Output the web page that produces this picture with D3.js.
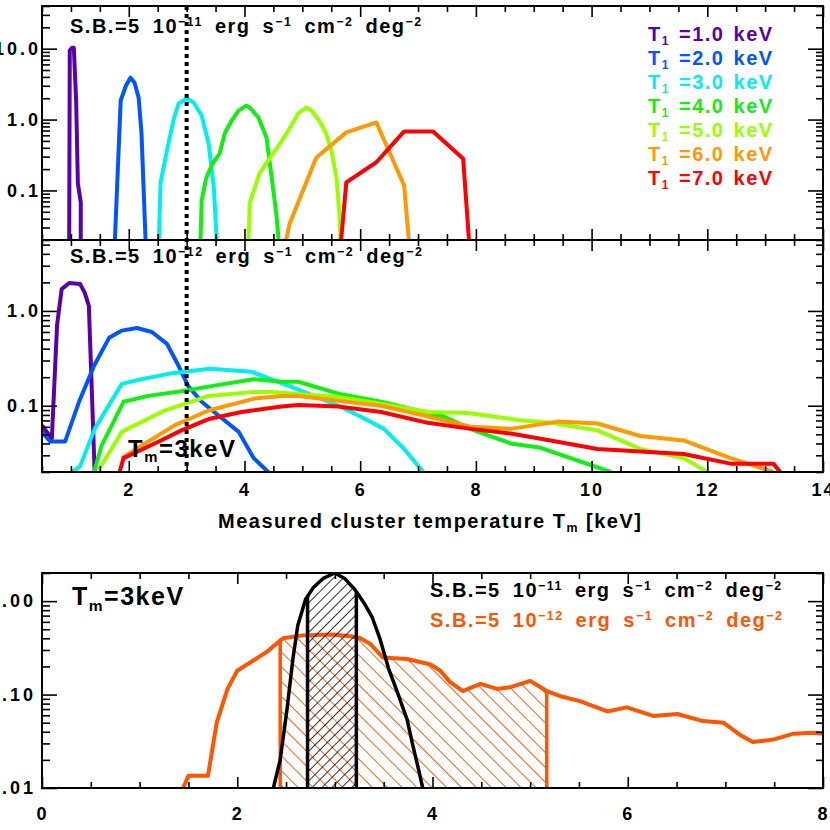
<!DOCTYPE html>
<html>
<head>
<meta charset="utf-8">
<script src="https://cdn.jsdelivr.net/npm/d3@7"></script>
<style>
  body { margin: 0; background: #fff; }
  svg text { font-family: "Liberation Sans", Arial, sans-serif; font-weight: bold; letter-spacing: 1.5px; white-space: pre; }
</style>
</head>
<body>
<div class="chart"></div>
<script>
// ---- data -------------------------------------------------------------
const inputTemps = ["1.0", "2.0", "3.0", "4.0", "5.0", "6.0", "7.0"];
const colors = ["#5a00aa", "#0055ff", "#00eeee", "#11ee11", "#99ff00", "#ff9900", "#ff0000"];

// S.B. = 5e-11 : [measured T (keV), value]
const hi1 = [[0.97, 0.02], [0.98, 9.4], [1.02, 10.3], [1.05, 10.3], [1.09, 1.85], [1.12, 0.126], [1.17, 0.068], [1.17, 0.02]];
const hi2 = [[1.76, 0.02], [1.86, 1.85], [1.95, 3.0], [2.03, 3.9], [2.10, 3.3], [2.17, 2.04], [2.22, 0.64], [2.29, 0.02]];
const hi3 = [[2.52, 0.02], [2.55, 0.13], [2.67, 0.40], [2.78, 1.03], [2.86, 1.68], [3.0, 1.98], [3.12, 1.74], [3.26, 1.14], [3.38, 0.46], [3.47, 0.11], [3.52, 0.02]];
const hi4 = [[3.24, 0.02], [3.26, 0.072], [3.34, 0.152], [3.45, 0.24], [3.57, 0.33], [3.66, 0.64], [3.78, 0.97], [3.90, 1.34], [4.03, 1.57], [4.09, 1.48], [4.24, 1.07], [4.38, 0.56], [4.47, 0.152], [4.55, 0.047], [4.59, 0.02]];
const hi5 = [[4.07, 0.02], [4.09, 0.066], [4.26, 0.174], [4.41, 0.265], [4.59, 0.43], [4.76, 0.70], [4.93, 1.22], [5.07, 1.48], [5.16, 1.34], [5.29, 0.97], [5.41, 0.64], [5.50, 0.37], [5.59, 0.152], [5.64, 0.047], [5.66, 0.02]];
const hi6 = [[4.72, 0.02], [4.78, 0.034], [5.24, 0.29], [5.76, 0.66], [6.28, 0.91], [6.76, 0.117], [6.84, 0.02]];
const hi7 = [[5.67, 0.02], [5.76, 0.13], [6.28, 0.25], [6.76, 0.68], [7.26, 0.68], [7.78, 0.28], [7.88, 0.02]];

// S.B. = 5e-12
const lo1 = [[0.5, 0.062], [0.67, 0.045], [0.76, 0.70], [0.84, 1.70], [0.97, 1.97], [1.16, 1.92], [1.24, 1.55], [1.31, 1.13], [1.41, 0.02]];
const lo2 = [[0.5, 0.053], [0.64, 0.042], [0.90, 0.042], [1.14, 0.11], [1.40, 0.264], [1.66, 0.52], [1.88, 0.62], [2.14, 0.66], [2.40, 0.60], [2.66, 0.45], [2.86, 0.264], [3.03, 0.16], [3.26, 0.11], [3.55, 0.079], [3.90, 0.053], [4.16, 0.028], [4.41, 0.02]];
const lo3 = [[1.02, 0.02], [1.16, 0.023], [1.41, 0.057], [1.88, 0.17], [2.22, 0.19], [2.69, 0.217], [3.40, 0.245], [4.12, 0.228], [4.47, 0.19], [5.03, 0.14], [5.62, 0.1], [5.97, 0.079], [6.41, 0.057], [6.76, 0.035], [7.09, 0.02]];
const lo4 = [[1.40, 0.02], [1.53, 0.038], [1.91, 0.11], [2.34, 0.127], [2.97, 0.144], [3.48, 0.163], [4.16, 0.19], [4.64, 0.179], [4.93, 0.179], [5.62, 0.134], [6.36, 0.11], [7.10, 0.086], [7.45, 0.077], [7.97, 0.055], [8.60, 0.04], [9.12, 0.036], [10.33, 0.02]];
const lo5 = [[1.48, 0.021], [1.88, 0.053], [2.62, 0.089], [3.38, 0.127], [4.17, 0.14], [4.47, 0.14], [5.62, 0.124], [6.36, 0.105], [7.17, 0.086], [7.86, 0.084], [8.78, 0.07], [9.29, 0.066], [10.10, 0.055], [10.84, 0.035], [11.59, 0.028], [12.0, 0.02]];
const lo6 = [[1.88, 0.028], [2.22, 0.038], [2.79, 0.062], [3.38, 0.089], [4.17, 0.119], [4.64, 0.127], [4.93, 0.127], [5.62, 0.113], [6.36, 0.1], [7.10, 0.079], [7.91, 0.06], [8.60, 0.057], [9.41, 0.068], [10.10, 0.065], [10.84, 0.048], [11.59, 0.043], [12.40, 0.028], [13.14, 0.02]];
const lo7 = [[1.84, 0.02], [1.91, 0.028], [2.52, 0.042], [2.91, 0.055], [3.40, 0.073], [3.95, 0.086], [4.64, 0.098], [4.93, 0.102], [5.62, 0.098], [6.36, 0.086], [7.17, 0.066], [7.91, 0.057], [8.60, 0.051], [9.29, 0.043], [10.10, 0.035], [11.59, 0.031], [12.40, 0.0245], [13.14, 0.0245], [13.26, 0.02]];

const hiCurves = [hi1, hi2, hi3, hi4, hi5, hi6, hi7];
const loCurves = [lo1, lo2, lo3, lo4, lo5, lo6, lo7];

// bottom panel, T_m = 3 keV
const tmRef = 3;
const bestHi = [[2.37, 0.01], [2.44, 0.02], [2.51, 0.07], [2.57, 0.24], [2.62, 0.55], [2.70, 1.05], [2.78, 1.40], [2.88, 1.75], [3.00, 2.0], [3.10, 1.75], [3.21, 1.31], [3.30, 0.95], [3.38, 0.68], [3.46, 0.40], [3.55, 0.19], [3.64, 0.106], [3.74, 0.054], [3.80, 0.028], [3.85, 0.017], [3.90, 0.01]];
const bestLo = [[1.445, 0.01], [1.50, 0.0135], [1.70, 0.0135], [1.79, 0.050], [1.90, 0.115], [2.00, 0.18], [2.16, 0.23], [2.31, 0.29], [2.44, 0.38], [2.47, 0.40], [2.67, 0.43], [2.98, 0.44], [3.16, 0.42], [3.26, 0.40], [3.36, 0.35], [3.49, 0.25], [3.74, 0.24], [3.98, 0.21], [4.08, 0.18], [4.18, 0.136], [4.31, 0.109], [4.49, 0.13], [4.66, 0.115], [4.80, 0.12], [5.00, 0.14], [5.17, 0.109], [5.31, 0.096], [5.51, 0.085], [5.79, 0.066], [5.99, 0.073], [6.26, 0.059], [6.51, 0.062], [6.77, 0.052], [6.98, 0.050], [7.15, 0.037], [7.28, 0.031], [7.49, 0.033], [7.69, 0.038], [7.90, 0.039], [8.0, 0.038]];
const rangeHi = [2.72, 3.22];
const rangeLo = [2.44, 5.17];

const sbHiText = [["S.B.=5 10"], ["\u221211", "sup"], [" erg s"], ["\u22121", "sup"], [" cm"], ["\u22122", "sup"], [" deg"], ["\u22122", "sup"]];
const sbLoText = [["S.B.=5 10"], ["\u221212", "sup"], [" erg s"], ["\u22121", "sup"], [" cm"], ["\u22122", "sup"], [" deg"], ["\u22122", "sup"]];
const tmText = [["T"], ["m", "sub"], ["=3keV"]];

const yHiTicks = [0.1, 1, 10], yHiLabels = ["0.1", "1.0", "10.0"];
const yLoTicks = [0.1, 1], yLoLabels = ["0.1", "1.0"];
const yBotTicks = [0.01, 0.1, 1], yBotLabels = ["0.01", "0.10", "1.00"];
const xTopTicks = [2, 4, 6, 8, 10, 12, 14];
const xBotTicks = [0, 2, 4, 6, 8];

// ---- layout -----------------------------------------------------------
const xL = 42, xR = 823;
const svg = d3.select(".chart").append("svg").attr("width", 830).attr("height", 830);

const xTop = d3.scaleLinear().domain([0.5, 14]).range([xL, xR]);
const yHi = d3.scaleLog().domain([0.02, 40]).range([240, 6]);
const yLo = d3.scaleLog().domain([0.02, 5.6]).range([472, 240]);
const xBot = d3.scaleLinear().domain([0, 8]).range([xL, xR]);
const yBot = d3.scaleLog().domain([0.01, 2]).range([788, 573]);

const defs = svg.append("defs");

function hatch(id, size, angle, color, width) {
    defs.append("pattern").attr("id", id)
        .attr("patternUnits", "userSpaceOnUse")
        .attr("width", size).attr("height", size)
        .attr("patternTransform", `rotate(${angle})`)
        .append("line")
        .attr("x1", 0).attr("y1", 0).attr("x2", 0).attr("y2", size)
        .attr("stroke", color).attr("stroke-width", width);
}
hatch("hatchBlack", 7, 45, "#000", 1.6);
hatch("hatchOrange", 10.5, -45, "#ff5500", 1.8);

function clipRect(id, x0, y0, x1, y1) {
    defs.append("clipPath").attr("id", id).append("rect")
        .attr("x", x0).attr("y", y0).attr("width", x1 - x0).attr("height", y1 - y0);
}

function minorLog(dom) {
    const out = [];
    for (let e = -3; e <= 2; e++)
        for (let m = 2; m <= 9; m++) {
            const v = m * Math.pow(10, e);
            if (v >= dom[0] && v <= dom[1]) out.push(v);
        }
    return out;
}

function frame(x, y, o) {
    const g = svg.append("g");
    const [yb, yt] = y.range();
    const xMinor = d3.range(x.domain()[0], x.domain()[1] + 1e-9, 0.5).filter(v => !o.xTicks.includes(v));
    const yMinor = minorLog(y.domain());
    const put = (axis, tx, ty) => g.append("g")
        .attr("transform", `translate(${tx},${ty})`)
        .call(axis)
        .call(a => a.select(".domain").remove())
        .call(a => a.selectAll("line").attr("stroke-width", 1.6));

    const bottom = put(d3.axisBottom(x).tickValues(o.xTicks).tickSize(-11).tickPadding(o.xPad || 12)
        .tickFormat(o.xLabels ? d3.format("d") : () => ""), 0, yb);
    bottom.selectAll("text").style("font-size", "18px").style("letter-spacing", "2px").attr("fill", "#000");
    put(d3.axisBottom(x).tickValues(xMinor).tickSize(-6).tickFormat(() => ""), 0, yb);
    put(d3.axisTop(x).tickValues(o.xTicks).tickSize(-11).tickFormat(() => ""), 0, yt);
    put(d3.axisTop(x).tickValues(xMinor).tickSize(-6).tickFormat(() => ""), 0, yt);

    const left = put(d3.axisLeft(y).tickValues(o.yTicks).tickSize(-15).tickPadding(o.yPad || 1)
        .tickFormat((d, i) => o.yLabels[i]), xL, 0);
    left.selectAll("text").style("font-size", "18px").style("letter-spacing", "3px").attr("fill", "#000");
    put(d3.axisLeft(y).tickValues(yMinor).tickSize(-8).tickFormat(() => ""), xL, 0);
    put(d3.axisRight(y).tickValues(o.yTicks).tickSize(-15).tickFormat(() => ""), xR, 0);
    put(d3.axisRight(y).tickValues(yMinor).tickSize(-7).tickFormat(() => ""), xR, 0);

    g.append("rect").attr("x", xL).attr("y", yt).attr("width", xR - xL).attr("height", yb - yt)
        .attr("fill", "none").attr("stroke", "#000").attr("stroke-width", 2);
}

function richText(parent, x, y, parts, size, color, anchor, wordGap) {
    const t = parent.append("text").attr("x", x).attr("y", y)
        .attr("fill", color || "#000").style("font-size", size + "px")
        .style("word-spacing", (wordGap || 0) + "px")
        .attr("text-anchor", anchor || "start");
    let level = 0;
    parts.forEach(([s, kind]) => {
        const target = kind === "sup" ? -0.34 * size : kind === "sub" ? 0.22 * size : 0;
        t.append("tspan").attr("dy", target - level)
            .style("font-size", (kind ? 0.62 * size : size) + "px").text(s);
        level = target;
    });
    return t;
}

// ---- top two panels -----------------------------------------------------
clipRect("clipHi", xL, 6, xR, 240);
clipRect("clipLo", xL, 240, xR, 472);

const lineHi = d3.line().x(d => xTop(d[0])).y(d => yHi(d[1]));
const lineLo = d3.line().x(d => xTop(d[0])).y(d => yLo(d[1]));

const gHi = svg.append("g").attr("clip-path", "url(#clipHi)");
gHi.selectAll("path").data(hiCurves).enter().append("path")
    .attr("d", lineHi).attr("fill", "none")
    .attr("stroke", (d, i) => colors[i]).attr("stroke-width", 4).attr("stroke-linejoin", "round");

const gLo = svg.append("g").attr("clip-path", "url(#clipLo)");
gLo.selectAll("path").data(loCurves).enter().append("path")
    .attr("d", lineLo).attr("fill", "none")
    .attr("stroke", (d, i) => colors[i]).attr("stroke-width", 4).attr("stroke-linejoin", "round");

svg.append("line")
    .attr("x1", xTop(tmRef)).attr("x2", xTop(tmRef))
    .attr("y1", yHi(40)).attr("y2", yLo(0.02))
    .attr("stroke", "#000").attr("stroke-width", 4).attr("stroke-dasharray", "4,4");

frame(xTop, yHi, { xTicks: xTopTicks, xLabels: false, yTicks: yHiTicks, yLabels: yHiLabels });
frame(xTop, yLo, { xTicks: xTopTicks, xLabels: true, yTicks: yLoTicks, yLabels: yLoLabels, xPad: 11 });

richText(svg, 70, 33, sbHiText, 20, "#000", "start", 5);
richText(svg, 70, 263, sbLoText, 20, "#000", "start", 5);
richText(svg, 128, 457, tmText, 24);

svg.append("g").selectAll("text").data(inputTemps).enter().append("text")
    .attr("x", 648).attr("y", (d, i) => 41 + i * 24)
    .attr("fill", (d, i) => colors[i]).style("font-size", "20px").style("word-spacing", "2px")
    .each(function (d) {
        const t = d3.select(this);
        t.append("tspan").text("T");
        t.append("tspan").attr("dy", 4).style("font-size", "12px").text("1");
        t.append("tspan").attr("dy", -4).text(" =" + d + " keV");
    });

richText(svg, 218, 528, [["Measured cluster temperature T"], ["m", "sub"], [" [keV]"]], 20);

// ---- bottom panel -----------------------------------------------------
clipRect("clipBot", xL, 573, xR, 788);
clipRect("clipRangeLo", xBot(rangeLo[0]), 573, xBot(rangeLo[1]), 788);
clipRect("clipRangeHi", xBot(rangeHi[0]), 573, xBot(rangeHi[1]), 788);

const lineBot = d3.line().x(d => xBot(d[0])).y(d => yBot(d[1]));
const areaBot = d3.area().x(d => xBot(d[0])).y0(yBot(0.01)).y1(d => yBot(d[1]));

defs.append("clipPath").attr("id", "underLo").append("path").attr("d", areaBot(bestLo));
defs.append("clipPath").attr("id", "underHi").append("path").attr("d", areaBot(bestHi));

const gBot = svg.append("g").attr("clip-path", "url(#clipBot)");

gBot.append("g").attr("clip-path", "url(#clipRangeLo)")
    .append("path").attr("d", areaBot(bestLo)).attr("fill", "url(#hatchOrange)");
gBot.append("g").attr("clip-path", "url(#underLo)").selectAll("line")
    .data(rangeLo).enter().append("line")
    .attr("x1", d => xBot(d)).attr("x2", d => xBot(d))
    .attr("y1", 573).attr("y2", 788)
    .attr("stroke", "#ff5500").attr("stroke-width", 3.5);
gBot.append("path").attr("d", lineBot(bestLo)).attr("fill", "none")
    .attr("stroke", "#ff5500").attr("stroke-width", 4).attr("stroke-linejoin", "round");

gBot.append("g").attr("clip-path", "url(#clipRangeHi)")
    .append("path").attr("d", areaBot(bestHi)).attr("fill", "url(#hatchBlack)");
gBot.append("g").attr("clip-path", "url(#underHi)").selectAll("line")
    .data(rangeHi).enter().append("line")
    .attr("x1", d => xBot(d)).attr("x2", d => xBot(d))
    .attr("y1", 573).attr("y2", 788)
    .attr("stroke", "#000").attr("stroke-width", 3.5);
gBot.append("path").attr("d", lineBot(bestHi)).attr("fill", "none")
    .attr("stroke", "#000").attr("stroke-width", 3.5).attr("stroke-linejoin", "round");

frame(xBot, yBot, { xTicks: xBotTicks, xLabels: true, yTicks: yBotTicks, yLabels: yBotLabels, xPad: 19, yPad: 6 });

richText(svg, 72, 605, tmText, 25);
richText(svg, 430, 597, sbHiText, 20, "#000", "start", 5);
richText(svg, 430, 627, sbLoText, 20, "#ff5500", "start", 5);
richText(svg, 616, 845, [["True cluster temperature [keV]"]], 20, "#000", "end");
</script>
</body>
</html>
